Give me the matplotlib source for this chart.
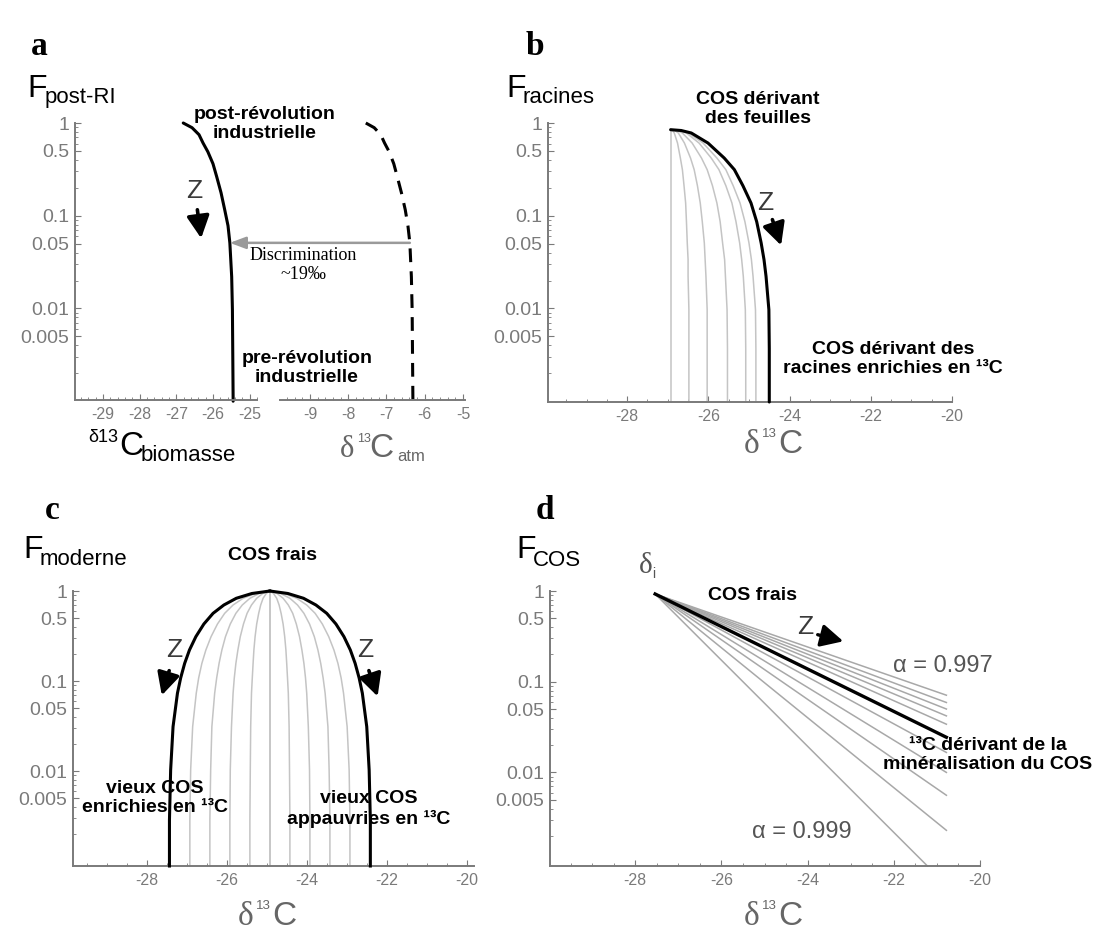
import matplotlib
matplotlib.use('Agg')
import matplotlib.pyplot as plt
import numpy as np
from matplotlib.transforms import Affine2D
from matplotlib.patches import ConnectionPatch, FancyArrowPatch
from matplotlib.ticker import MultipleLocator, LogLocator, NullFormatter

plt.rcParams['font.family'] = ['Liberation Sans', 'DejaVu Sans']

# ---------------- values ----------------
y_ticks = [1, 0.5, 0.1, 0.05, 0.01, 0.005]
y_tick_labels = ['1', '0.5', '0.1', '0.05', '0.01', '0.005']

# panel a : biomass (solid) and atmosphere (dashed)
f_a = [1.0, 0.89, 0.748, 0.608, 0.49, 0.364, 0.265, 0.177, 0.116, 0.078,
       0.051, 0.022, 0.0097, 0.001]
d13c_biomasse = [-26.81, -26.57, -26.38, -26.27, -26.14, -26.00, -25.90, -25.78,
                 -25.68, -25.59, -25.54, -25.49, -25.47, -25.45]
d13c_atm = [-7.54, -7.32, -7.15, -7.05, -6.93, -6.81, -6.72, -6.61,
            -6.51, -6.44, -6.39, -6.35, -6.33, -6.31]
discrim_idx = 10
xticks_bio = [-29, -28, -27, -26, -25]
xticks_atm = [-9, -8, -7, -6, -5]

# panel b : roots
f_b = [0.847, 0.83, 0.78, 0.608, 0.419, 0.314, 0.211, 0.137, 0.0862, 0.0508,
       0.0336, 0.0222, 0.0097, 0.0037, 0.00098]
racines_black = [-26.93, -26.67, -26.42, -26.01, -25.61, -25.36, -25.15, -24.95,
                 -24.81, -24.70, -24.63, -24.58, -24.51, -24.50, -24.50]
racines_gray = [
    [-26.93] * 15,
    [-26.93, -26.88, -26.84, -26.76, -26.69, -26.64, -26.60, -26.56, -26.54, -26.52,
     -26.50, -26.50, -26.48, -26.48, -26.48],
    [-26.93, -26.83, -26.74, -26.59, -26.44, -26.35, -26.27, -26.20, -26.15, -26.10,
     -26.08, -26.06, -26.03, -26.03, -26.03],
    [-26.93, -26.78, -26.64, -26.40, -26.17, -26.03, -25.90, -25.79, -25.71, -25.65,
     -25.60, -25.58, -25.54, -25.53, -25.53],
    [-26.93, -26.73, -26.54, -26.23, -25.93, -25.74, -25.57, -25.42, -25.32, -25.23,
     -25.18, -25.14, -25.09, -25.08, -25.08],
    [-26.93, -26.71, -26.49, -26.13, -25.79, -25.57, -25.39, -25.22, -25.10, -25.00,
     -24.94, -24.90, -24.84, -24.83, -24.83],
]

# panel c : modern carbon, offsets on each side of the apex
f_c = [1.0, 0.938, 0.83, 0.699, 0.565, 0.43, 0.311, 0.221, 0.157, 0.108, 0.0732,
       0.0311, 0.0103, 0.00284, 0.00088]
c_center = -24.92
moderne_black_off = [0, 0.45, 0.84, 1.15, 1.42, 1.65, 1.85, 2.01, 2.13, 2.23, 2.31,
                     2.42, 2.48, 2.51, 2.51]
moderne_gray_off = [
    [0, 0.36, 0.67, 0.92, 1.13, 1.31, 1.47, 1.60, 1.70, 1.78, 1.84, 1.93, 1.98, 2.0, 2.0],
    [0, 0.27, 0.50, 0.69, 0.85, 0.99, 1.11, 1.20, 1.27, 1.33, 1.38, 1.45, 1.48, 1.5, 1.5],
    [0, 0.18, 0.33, 0.46, 0.57, 0.66, 0.74, 0.80, 0.85, 0.89, 0.92, 0.96, 0.99, 1.0, 1.0],
    [0, 0.09, 0.17, 0.23, 0.28, 0.33, 0.37, 0.40, 0.42, 0.44, 0.46, 0.48, 0.49, 0.5, 0.5],
    [0] * 15,
]

# panel d : Rayleigh lines from delta_i
d_i, f_i = -27.54, 0.927
cos_end_d = [-20.78, -20.78, -20.78, -20.78, -20.78, -20.78, -20.78, -20.78, -20.78, -21.22]
cos_end_f = [0.071, 0.059, 0.050, 0.042, 0.034, 0.0166, 0.0100, 0.0056, 0.0023, 0.00093]
cos_black_end = (-20.78, 0.0244)
xticks_bcd = [-28, -26, -24, -22, -20]

# ---------------- figure ----------------
W, H = 1100, 932
fig = plt.figure(figsize=(W / 100, H / 100), dpi=100)
px = Affine2D().scale(1 / W, -1 / H).translate(0, 1) + fig.transFigure


def box(x0, y0, x1, y1):
    return [x0 / W, 1 - y1 / H, (x1 - x0) / W, (y1 - y0) / H]


def t(x, y, s, **kw):
    return fig.text(x, y, s, transform=px, **kw)


AX_GRAY = '#7a7a7a'
LINE_GRAY = '#c4c4c4'


def style(ax, xlim, ylim, xticks, minor, left=True):
    ax.set_yscale('log')
    ax.set_xlim(*xlim)
    ax.set_ylim(*ylim)
    ax.patch.set_visible(False)
    for s in ['top', 'right']:
        ax.spines[s].set_visible(False)
    for s in ['left', 'bottom']:
        ax.spines[s].set_color(AX_GRAY)
        ax.spines[s].set_linewidth(1.4)
    ax.set_xticks(xticks)
    ax.set_xticklabels([str(v) for v in xticks])
    ax.xaxis.set_minor_locator(MultipleLocator(minor))
    ax.tick_params(axis='x', which='both', direction='in', colors=AX_GRAY,
                   labelsize=11.5, pad=5)
    ax.tick_params(axis='x', which='major', length=4)
    ax.tick_params(axis='x', which='minor', length=2.5)
    if left:
        ax.set_yticks(y_ticks)
        ax.set_yticklabels(y_tick_labels)
        ax.yaxis.set_minor_locator(LogLocator(base=10, subs=np.arange(2, 10)))
        ax.yaxis.set_minor_formatter(NullFormatter())
        ax.tick_params(axis='y', which='both', direction='in', colors=AX_GRAY,
                       labelsize=14, pad=4)
        ax.tick_params(axis='y', which='major', length=4)
        ax.tick_params(axis='y', which='minor', length=2.5)
    else:
        ax.spines['left'].set_visible(False)
        ax.tick_params(axis='y', which='both', left=False, labelleft=False)


def z_arrow(zx, zy, x0, y0, x1, y1):
    t(zx, zy, 'Z', ha='center', va='center', fontsize=19, color='#3a3a3a')
    fig.add_artist(FancyArrowPatch((x0, y0), (x1, y1), transform=px,
                                   arrowstyle='-|>,head_length=0.75,head_width=0.38',
                                   mutation_scale=18, lw=2.6, color='black'))


def delta13c(x, y, color='#666666'):
    t(x, y, 'δ', family='Liberation Serif', fontsize=24, color=color, va='baseline')
    t(x + 18, y - 16, '13', fontsize=9.5, color=color, va='baseline')
    t(x + 34, y, 'C', fontsize=24, color=color, va='baseline')


bold = dict(ha='center', va='center', fontsize=14, fontweight='bold',
            linespacing=1.2, multialignment='center')

# ---------------- panel a ----------------
ax_bio = fig.add_axes(box(75, 123, 257, 400))
ax_atm = fig.add_axes(box(280, 123, 465, 400))
style(ax_bio, (-29.76, -24.80), (0.00103, 1), xticks_bio, 0.2)
style(ax_atm, (-9.78, -4.95), (0.00103, 1), xticks_atm, 0.2, left=False)
ax_bio.plot(d13c_biomasse, f_a, color='black', lw=2.2, clip_on=False,
            solid_capstyle='round')
ax_atm.plot(d13c_atm, f_a, color='black', lw=2.2, clip_on=False,
            dashes=(4.5, 3.0))
con = ConnectionPatch(xyA=(d13c_atm[discrim_idx], f_a[discrim_idx]), coordsA=ax_atm.transData,
                      xyB=(d13c_biomasse[discrim_idx], f_a[discrim_idx]), coordsB=ax_bio.transData,
                      arrowstyle='-|>,head_length=0.8,head_width=0.3', mutation_scale=12,
                      color='#9a9a9a', lw=1.8)
fig.add_artist(con)

t(31, 55, 'a', family='Liberation Serif', fontweight='bold', fontsize=24, va='baseline')
t(27, 97, 'F', fontsize=23, va='baseline')
t(45, 103, 'post-RI', fontsize=16, va='baseline')
t(265, 124, 'post-révolution\nindustrielle', **bold)
t(307, 368, 'pre-révolution\nindustrielle', **bold)
t(303, 265, 'Discrimination\n~19‰', ha='center', va='center', family='Liberation Serif',
  fontsize=13, linespacing=1.15)
z_arrow(194.5, 191.5, 197, 207, 201.5, 241)
t(88, 442, 'δ13', fontsize=13, va='baseline')
t(119, 455, 'C', fontsize=24, va='baseline')
t(141, 461, 'biomasse', fontsize=16, va='baseline')
t(340, 457, 'δ', family='Liberation Serif', fontsize=22, color='#666666', va='baseline')
t(357, 442, '13', fontsize=9, color='#666666', va='baseline')
t(369, 457, 'C', fontsize=24, color='#666666', va='baseline')
t(397, 461, 'atm', fontsize=12, color='#666666', va='baseline')

# ---------------- panel b ----------------
ax_b = fig.add_axes(box(548, 123, 952, 402))
style(ax_b, (-29.95, -20.0), (0.00098, 1), xticks_bcd, 0.5)
for xs in racines_gray:
    ax_b.plot(xs, f_b, color=LINE_GRAY, lw=1.1, clip_on=False, zorder=2)
ax_b.plot(racines_black, f_b, color='black', lw=2.2, clip_on=False, zorder=3,
          solid_capstyle='round')

t(526, 55, 'b', family='Liberation Serif', fontweight='bold', fontsize=24, va='baseline')
t(506, 97, 'F', fontsize=23, va='baseline')
t(523, 103, 'racines', fontsize=16, va='baseline')
t(758, 109, 'COS dérivant\ndes feuilles', **bold)
t(893, 359, 'COS dérivant des\nracines enrichies en ¹³C', **bold)
z_arrow(765.5, 203.5, 771.5, 217, 782, 248)
delta13c(744, 453)

# ---------------- panel c ----------------
ax_c = fig.add_axes(box(73, 591, 474, 866))
style(ax_c, (-29.84, -19.82), (0.00088, 1), xticks_bcd, 0.5)
for off in moderne_gray_off:
    ax_c.plot([c_center - o for o in off], f_c, color=LINE_GRAY, lw=1.1, clip_on=False, zorder=2)
    ax_c.plot([c_center + o for o in off], f_c, color=LINE_GRAY, lw=1.1, clip_on=False, zorder=2)
ax_c.plot([c_center - o for o in moderne_black_off], f_c, color='black', lw=2.2,
          clip_on=False, zorder=3)
ax_c.plot([c_center + o for o in moderne_black_off], f_c, color='black', lw=2.2,
          clip_on=False, zorder=3)

t(45, 519, 'c', family='Liberation Serif', fontweight='bold', fontsize=24, va='baseline')
t(23, 558, 'F', fontsize=23, va='baseline')
t(40, 565, 'moderne', fontsize=16, va='baseline')
t(273, 556, 'COS frais', **bold)
t(155, 798, 'vieux COS\nenrichies en ¹³C', **bold)
t(369, 809, 'vieux COS\nappauvries en ¹³C', **bold)
z_arrow(174, 650, 170, 668, 161, 698)
z_arrow(365, 650, 368, 668, 378.5, 699)
delta13c(238, 925)

# ---------------- panel d ----------------
ax_d = fig.add_axes(box(550, 591, 980, 866))
style(ax_d, (-29.98, -20.09), (0.00093, 1), xticks_bcd, 0.5)
for xe, fe in zip(cos_end_d, cos_end_f):
    ax_d.plot([d_i, xe], [f_i, fe], color='#a8a8a8', lw=1.1, clip_on=False, zorder=2)
ax_d.plot([d_i, cos_black_end[0]], [f_i, cos_black_end[1]], color='black', lw=2.4,
          clip_on=False, zorder=3)

t(536, 519, 'd', family='Liberation Serif', fontweight='bold', fontsize=24, va='baseline')
t(516, 558, 'F', fontsize=23, va='baseline')
t(533, 566, 'COS', fontsize=16, va='baseline')
t(639, 573, 'δ', family='Liberation Serif', fontsize=21, color='#555555', va='baseline')
t(652, 578, 'i', fontsize=10, color='#555555', va='baseline')
t(752, 596, 'COS frais', **bold)
t(988, 755, '¹³C dérivant de la\nminéralisation du COS', **bold)
t(943, 666, 'α = 0.997', ha='center', va='center', fontsize=17, color='#555555')
t(802, 832, 'α = 0.999', ha='center', va='center', fontsize=17, color='#555555')
t(805, 627.5, 'Z', ha='center', va='center', fontsize=19, color='#3a3a3a')
fig.add_artist(FancyArrowPatch((815, 634), (846, 642), transform=px,
                               arrowstyle='-|>,head_length=0.75,head_width=0.38',
                               mutation_scale=18, lw=2.4, color='black'))
delta13c(744, 925)

fig.savefig('out.png', dpi=100)
